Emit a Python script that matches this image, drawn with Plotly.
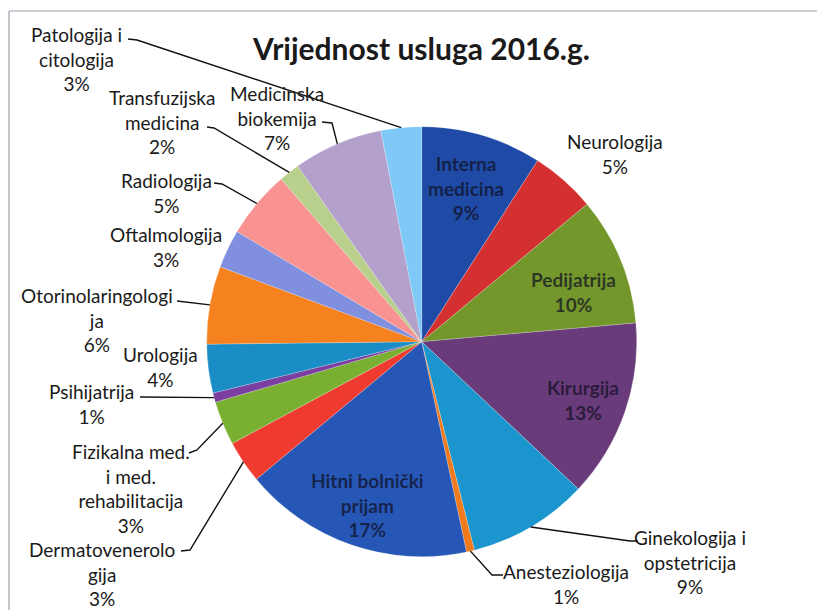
import math
import plotly.graph_objects as go

W, H = 825, 610

# ---------------- data ----------------
categories = [
    "Interna medicina", "Neurologija", "Pedijatrija", "Kirurgija",
    "Ginekologija i opstetricija", "Anesteziologija", "Hitni bolnički prijam",
    "Dermatovenerologija", "Fizikalna med. i med. rehabilitacija", "Psihijatrija",
    "Urologija", "Otorinolaringologija", "Oftalmologija", "Radiologija",
    "Transfuzijska medicina", "Medicinska biokemija", "Patologija i citologija",
]
values = [9.06, 4.9, 9.65, 13.4, 9.05, 0.6, 17.3, 3.2, 3.3, 0.7,
          3.66, 5.84, 2.9, 5.1, 1.55, 6.75, 3.04]
wrapped_labels = [
    "Interna<br>medicina", "Neurologija", "Pedijatrija", "Kirurgija",
    "Ginekologija i<br>opstetricija", "Anesteziologija", "Hitni bolnički<br>prijam",
    "Dermatovenerolo<br>gija", "Fizikalna med.<br>i med.<br>rehabilitacija", "Psihijatrija",
    "Urologija", "Otorinolaringologi<br>ja", "Oftalmologija", "Radiologija",
    "Transfuzijska<br>medicina", "Medicinska<br>biokemija", "Patologija i<br>citologija",
]
title_text = "Vrijednost usluga 2016.g."

# ---------------- style ----------------
colors = [
    "#1f4ba6", "#d4302f", "#73972b", "#6a3b7b",
    "#1b95cd", "#f07a1e", "#2757b6",
    "#ef3b2f", "#79b032", "#7a3fa0",
    "#1b8dc6", "#f5821f", "#8090df", "#f99392",
    "#b9d08c", "#b3a1cb", "#7ec9f7",
]
OFF = 8                               # page body margin in the browser
CX, CY, R = 421.7, 341.7, 215.0       # pie centre / radius in screen pixels
FONT = "Lato, 'Open Sans', sans-serif"

# label block centres (screen pixels) and leader-line start points
label_pos = {
    0: (466, 188), 1: (615, 154), 2: (573, 292), 3: (583, 400),
    4: (690, 562), 5: (566, 584), 6: (367, 505), 7: (102, 574),
    8: (131, 488), 9: (91, 404), 10: (160, 367), 11: (97, 320),
    12: (166, 247), 13: (166, 193), 14: (162, 122), 15: (277, 118),
    16: (76, 59),
}
inside = {0, 2, 3, 6}
leader_start = {
    16: [(128, 39), (137, 40)],
    14: [(207, 127), (214, 128)],
    15: [(322, 122), (332, 123)],
    13: [(214, 183), (222, 184)],
    11: [(177, 301)],
    9: [(140, 397)],
    8: [(189, 453), (197, 450)],
    7: [(181, 551), (190, 550)],
    5: [(503, 575), (492, 575)],
    4: [(638, 541), (630, 541)],
}


def paper(x, y):
    return (x - OFF) / W, 1 - (y - OFF) / H


total = sum(values)
fig = go.Figure()

x0p, y1p = paper(CX - R, CY - R)
x1p, y0p = paper(CX + R, CY + R)
fig.add_trace(go.Pie(
    labels=categories, values=values, sort=False, direction="clockwise",
    rotation=0, textinfo="none", hoverinfo="label+percent",
    marker=dict(colors=colors, line=dict(color="rgba(255,255,255,0.35)", width=0.6)),
    domain=dict(x=[x0p, x1p], y=[y0p, y1p]),
    showlegend=False,
))

annotations = []
shapes = []
cum = 0.0
for i, (cat, v) in enumerate(zip(categories, values)):
    frac = v / total
    mid = (cum + frac / 2) * 2 * math.pi
    cum += frac
    pct = f"{round(frac * 100):.0f}%"
    lx, ly = label_pos[i]
    px, py = paper(lx, ly)
    if i in inside:
        fnt = dict(family=FONT, size=19, color="rgba(15,15,35,0.72)", weight="bold")
    else:
        fnt = dict(family=FONT, size=19, color="#1a1a1a")
    annotations.append(dict(
        x=px, y=py, xref="paper", yref="paper", text=f"{wrapped_labels[i]}<br>{pct}",
        showarrow=False, xanchor="center", yanchor="middle", align="center", font=fnt,
    ))
    if i in leader_start:
        ex = CX + R * math.sin(mid)
        ey = CY - R * math.cos(mid)
        pts = leader_start[i] + [(ex, ey)]
        path = "M " + " L ".join(f"{paper(x, y)[0]:.5f},{paper(x, y)[1]:.5f}" for x, y in pts)
        shapes.append(dict(type="path", xref="paper", yref="paper", path=path,
                           line=dict(color="#111111", width=1.4)))

# chart frame (top and left edges visible)
fx, fy = paper(9, 11)
shapes.append(dict(type="line", xref="paper", yref="paper",
                   x0=fx, y0=fy, x1=1, y1=fy, line=dict(color="#9a9fa8", width=1.2)))
shapes.append(dict(type="line", xref="paper", yref="paper",
                   x0=fx, y0=fy, x1=fx, y1=0, line=dict(color="#9a9fa8", width=1.2)))

tx, ty = paper(421, 48)
annotations.append(dict(x=tx, y=ty, xref="paper", yref="paper", text=title_text,
                        showarrow=False, xanchor="center", yanchor="middle",
                        font=dict(family=FONT, size=30, color="#1a1a1a", weight="bold")))

fig.update_layout(
    width=W, height=H, margin=dict(l=0, r=0, t=0, b=0),
    paper_bgcolor="white", plot_bgcolor="white",
    annotations=annotations, shapes=shapes,
)

fig.write_html("out.html")
